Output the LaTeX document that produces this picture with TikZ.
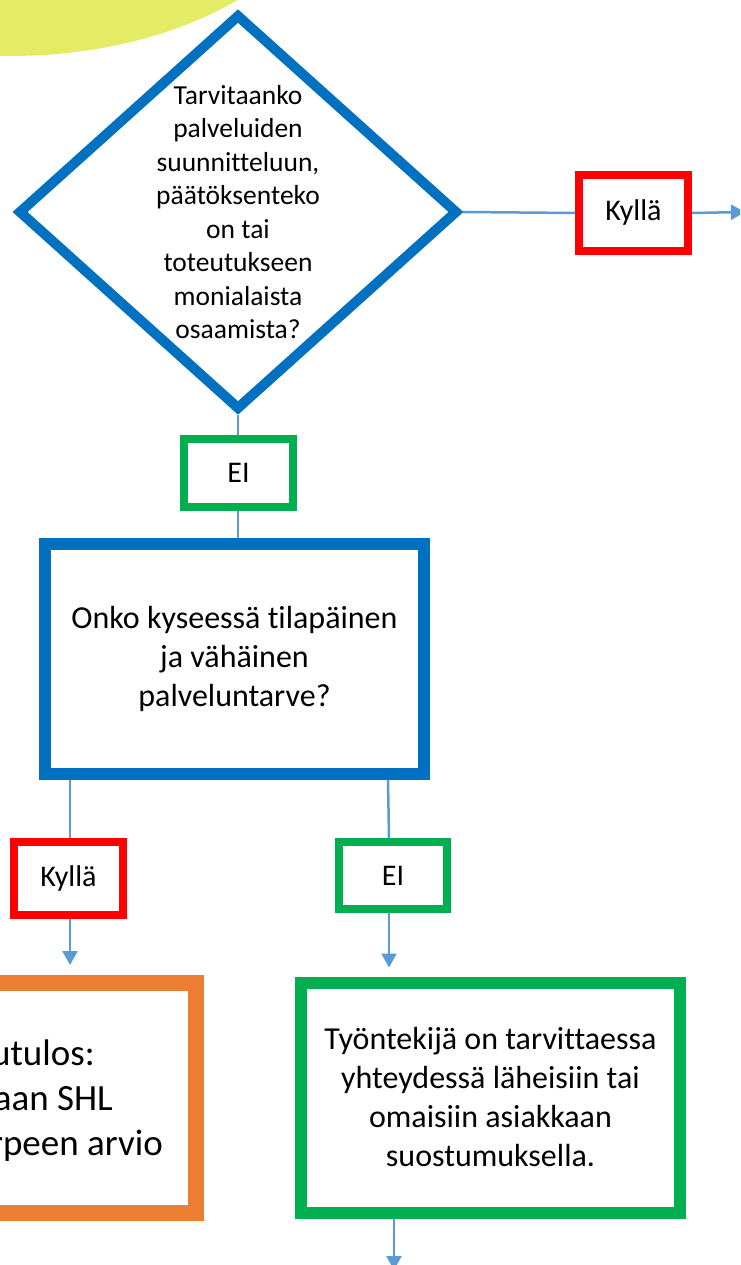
\documentclass[tikz,border=0pt]{standalone}
\usepackage{fontspec}
\setmainfont{Carlito}[Ligatures=NoCommon]
\usetikzlibrary{shapes.geometric,arrows.meta}
\definecolor{boxblue}{HTML}{0070C0}
\definecolor{boxgreen}{HTML}{00B050}
\definecolor{boxorange}{HTML}{ED7D31}
\definecolor{boxred}{HTML}{FF0000}
\definecolor{linkblue}{HTML}{5B9BD5}
\definecolor{blobyellow}{RGB}{228,235,100}

\begin{document}
\begin{tikzpicture}[x=1pt, y=-1pt,
  question/.style={draw=boxblue, line width=12pt, minimum width=379pt, minimum height=230pt, align=center, font=\fontsize{32}{39}\selectfont},
  answer/.style={line width=8pt, minimum width=109pt, inner sep=0pt, font=\fontsize{30}{36}\selectfont},
  link/.style={draw=linkblue, line width=2.5pt},
  tip/.style={-{Triangle[width=15pt,length=14pt]}}
]
\useasboundingbox (0,0) rectangle (740,1265);
\clip (0,0) rectangle (740,1265);

% Yellow blob
\fill[blobyellow] (10,-144) ellipse [x radius=328pt, y radius=200pt];

% First question
\node[draw=boxblue, diamond, line width=10pt, minimum width=440pt, minimum height=396pt, inner sep=0pt] (q1) at (238,212) {};
\node[align=center, font=\fontsize{27.5}{33.5}\selectfont] (q1text) at (q1) {Tarvitaanko\\palveluiden\\suunnitteluun,\\päätöksenteko\\on tai\\toteutukseen\\monialaista\\osaamista?};

% Answers
\node[answer, draw=boxred, minimum height=76pt] (kylla1) at (633.5,213) {Kyllä};
\node[answer, draw=boxgreen, minimum height=68pt] (ei1) at (238.5,473) {EI};

% Second question
\node[question] (onko) at (234.5,659) {Onko kyseessä tilapäinen\\ja vähäinen\\palveluntarve?};

\node[answer, draw=boxred, minimum height=73pt] (kylla2) at (68.5,878.5) {Kyllä};
\node[answer, draw=boxgreen, minimum width=108pt, minimum height=67pt] (ei2) at (393,875.5) {EI};

% Outcomes
\node[draw=boxorange, line width=16pt, minimum width=384pt, minimum height=230pt] (result) at (4,1098) {};
\node[anchor=base east, inner sep=0pt, font=\fontsize{37}{45}\selectfont] (res1) at (95,1065) {utulos:};
\node[anchor=base east, inner sep=0pt, font=\fontsize{37}{45}\selectfont] (res2) at (113,1110) {aan SHL};
\node[anchor=base east, inner sep=0pt, font=\fontsize{37}{45}\selectfont] (res3) at (163,1155) {rpeen arvio};

\node[question, draw=boxgreen] (act) at (490.5,1097.5) {Työntekijä on tarvittaessa\\yhteydessä läheisiin tai\\omaisiin asiakkaan\\suostumuksella.};

% Connectors
\coordinate (out1) at (745,212);
\coordinate (out2) at (394,1270);
\draw[link] (q1.east) -- (kylla1.west);
\draw[link, tip] (kylla1.east) -- (out1);
\draw[link] (q1.south) -- (q1.south |- ei1.north);
\draw[link] (q1.south |- ei1.south) -- (q1.south |- onko.north);
\draw[link] (onko.south -| 70,0) -- (kylla2.north -| 70,0);
\draw[link] (onko.south -| 388,0) -- (ei2.north -| 389,0);
\draw[link, tip, shorten >=10pt] (kylla2.south -| 70,0) -- (result.north -| 70,0);
\draw[link, tip, shorten >=9pt] (ei2.south -| 389,0) -- (act.north -| 389,0);
\draw[link, tip] (act.south -| out2) -- (out2);
\end{tikzpicture}
\end{document}
